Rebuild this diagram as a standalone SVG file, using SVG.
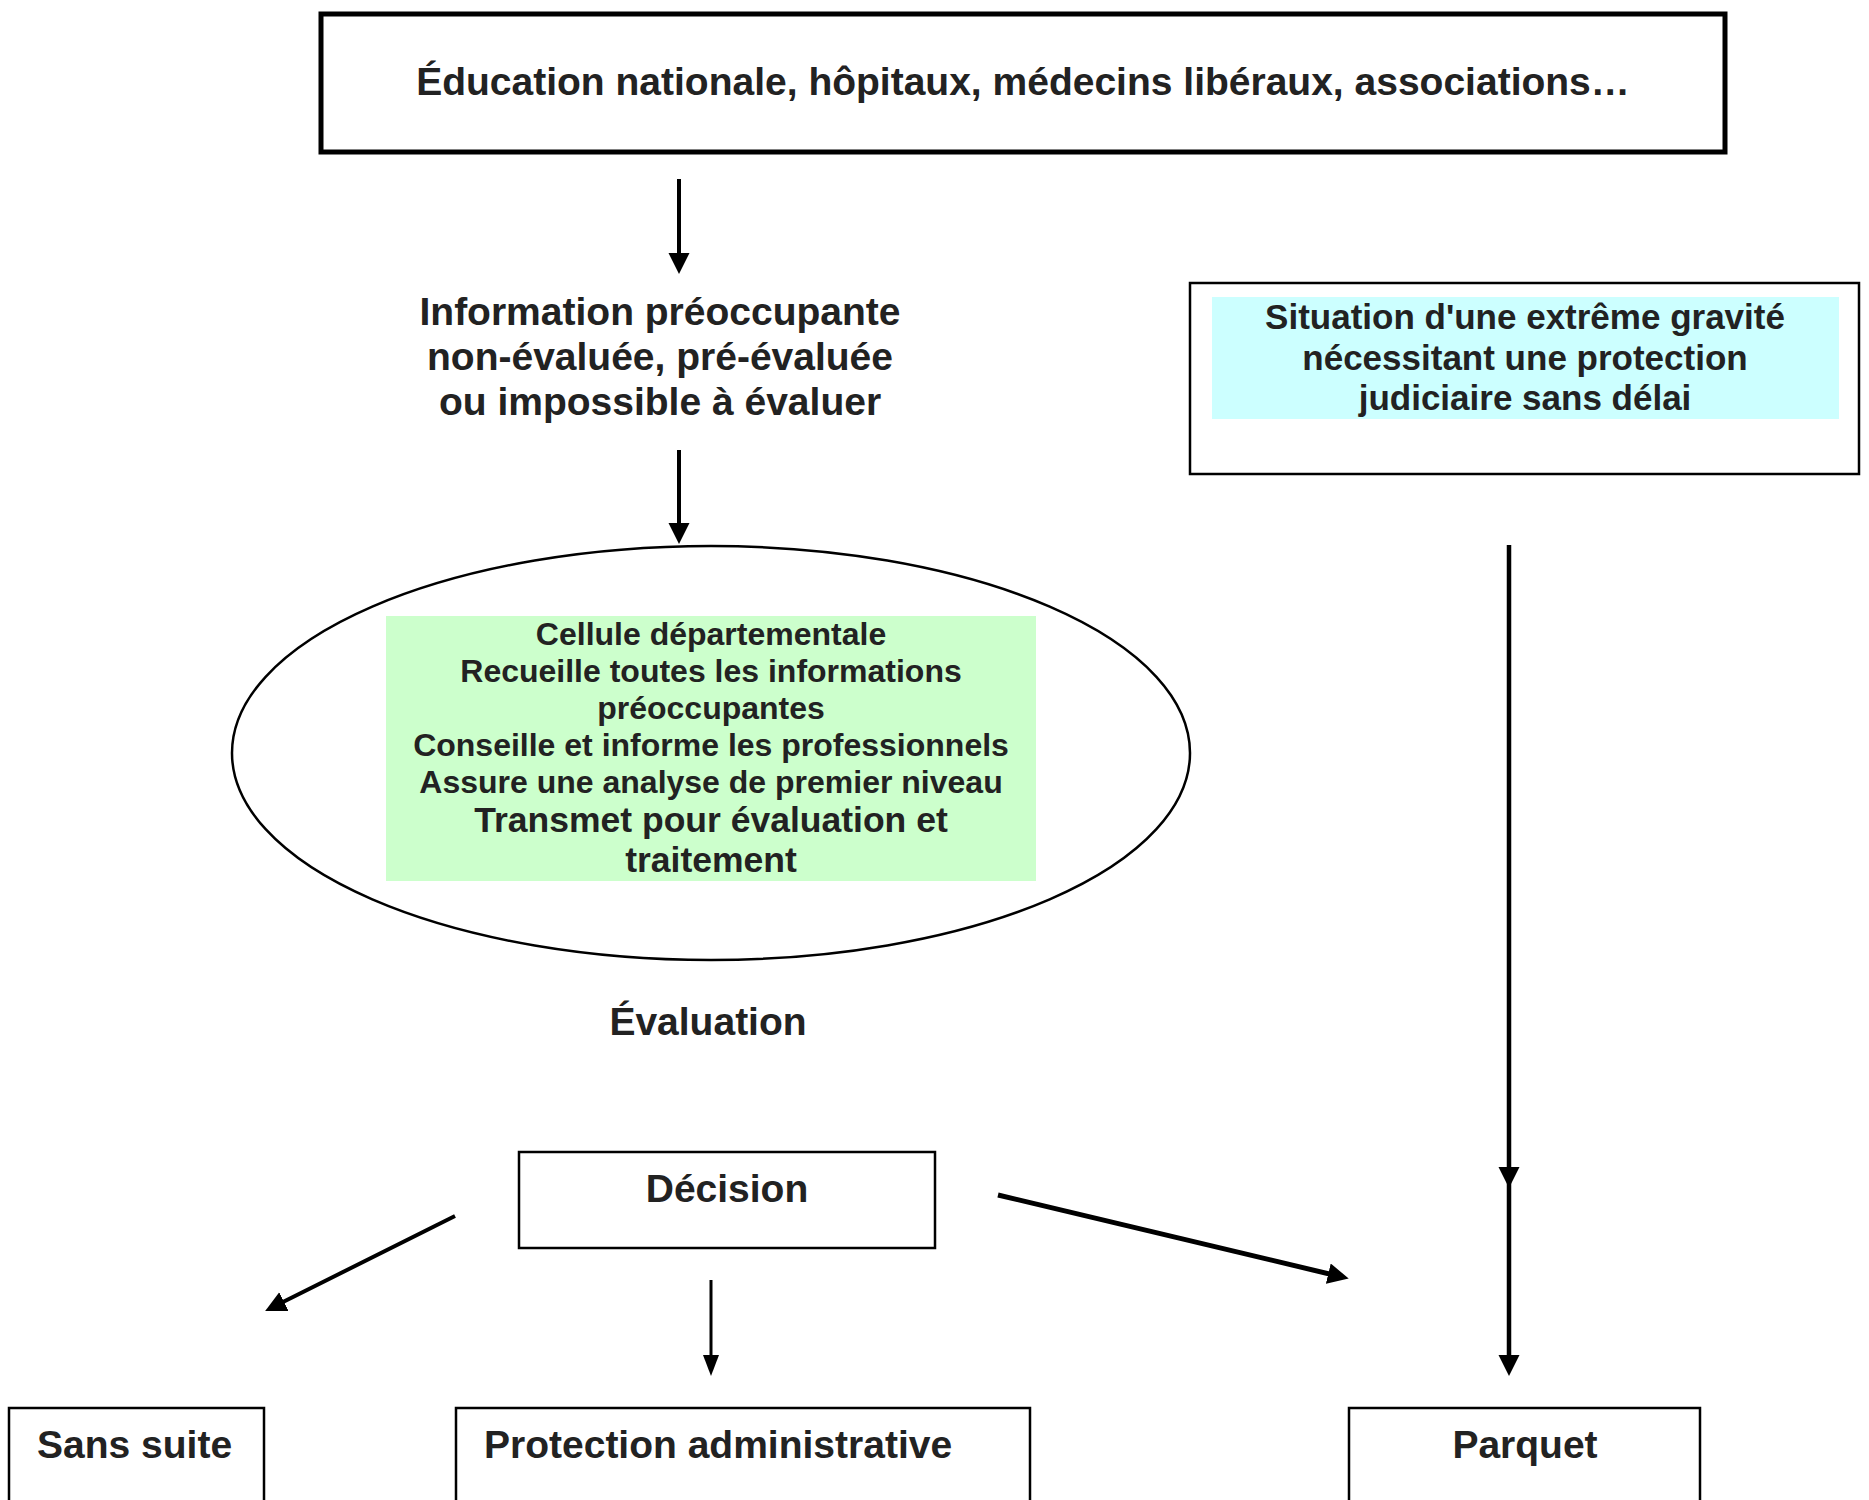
<svg xmlns="http://www.w3.org/2000/svg" width="1869" height="1500" viewBox="0 0 1869 1500">
<style>
text{font-family:"Liberation Sans",Arial,sans-serif;font-weight:bold;fill:#222;text-anchor:middle}
.box{fill:#fff;stroke:#000;stroke-width:2.5}
.ln{stroke:#000;fill:none}
</style>
<defs>
<marker id="ah" markerUnits="userSpaceOnUse" markerWidth="22" markerHeight="22" refX="10" refY="10.5" orient="auto"><path d="M0,0 L21,10.5 L0,21 z" fill="#000"/></marker>
<marker id="ahs" markerUnits="userSpaceOnUse" markerWidth="22" markerHeight="22" refX="10" refY="8" orient="auto"><path d="M0,0 L21,8 L0,16 z" fill="#000"/></marker>
</defs>
<rect width="1869" height="1500" fill="#fff"/>
<g id="sources">
<rect x="321" y="14" width="1404" height="138" fill="#fff" stroke="#000" stroke-width="5"/>
<text x="1023" y="95" font-size="39">Éducation nationale, hôpitaux, médecins libéraux, associations…</text>
</g>
<g id="information">
<text x="660" y="325" font-size="39">Information préoccupante</text>
<text x="660" y="370" font-size="39">non-évaluée, pré-évaluée</text>
<text x="660" y="415" font-size="39">ou impossible à évaluer</text>
</g>
<g id="gravite">
<rect class="box" x="1190" y="283" width="669" height="191"/>
<rect x="1212" y="297" width="627" height="122" fill="#ccffff"/>
<text x="1525" y="329" font-size="35">Situation d'une extrême gravité</text>
<text x="1525" y="370" font-size="35">nécessitant une protection</text>
<text x="1525" y="410" font-size="35">judiciaire sans délai</text>
</g>
<g id="cellule">
<ellipse cx="711" cy="753" rx="479" ry="207" fill="#fff" stroke="#000" stroke-width="2.5"/>
<rect x="386" y="616" width="650" height="265" fill="#ccffcc"/>
<text x="711" y="645" font-size="32">Cellule départementale</text>
<text x="711" y="682" font-size="32">Recueille toutes les informations</text>
<text x="711" y="719" font-size="32">préoccupantes</text>
<text x="711" y="756" font-size="32">Conseille et informe les professionnels</text>
<text x="711" y="793" font-size="32">Assure une analyse de premier niveau</text>
<text x="711" y="832" font-size="35.5">Transmet pour évaluation et</text>
<text x="711" y="872" font-size="35.5">traitement</text>
</g>
<g id="evaluation">
<text x="708" y="1035" font-size="39">Évaluation</text>
</g>
<g id="decision">
<rect class="box" x="519" y="1152" width="416" height="96"/>
<text x="727" y="1202" font-size="39">Décision</text>
</g>
<g id="sans-suite">
<rect class="box" x="9" y="1408" width="255" height="110"/>
<text x="37" y="1458" font-size="39" style="text-anchor:start">Sans suite</text>
</g>
<g id="protection">
<rect class="box" x="456" y="1408" width="574" height="110"/>
<text x="484" y="1458" font-size="39" style="text-anchor:start">Protection administrative</text>
</g>
<g id="parquet">
<rect class="box" x="1349" y="1408" width="351" height="110"/>
<text x="1525" y="1458" font-size="39">Parquet</text>
</g>
<g id="connectors">
<line class="ln" x1="679" y1="179" x2="679" y2="263" stroke-width="4" marker-end="url(#ah)"/>
<line class="ln" x1="679" y1="450" x2="679" y2="533" stroke-width="4" marker-end="url(#ah)"/>
<line class="ln" x1="1509" y1="545" x2="1509" y2="1177" stroke-width="4.5" marker-end="url(#ah)"/>
<line class="ln" x1="1509" y1="1180" x2="1509" y2="1365" stroke-width="4.5" marker-end="url(#ah)"/>
<line class="ln" x1="455" y1="1216" x2="275" y2="1306" stroke-width="4" marker-end="url(#ah)"/>
<line class="ln" x1="711" y1="1280" x2="711" y2="1365" stroke-width="3" marker-end="url(#ahs)"/>
<line class="ln" x1="998" y1="1195" x2="1338" y2="1276" stroke-width="5" marker-end="url(#ah)"/>
</g>
</svg>
